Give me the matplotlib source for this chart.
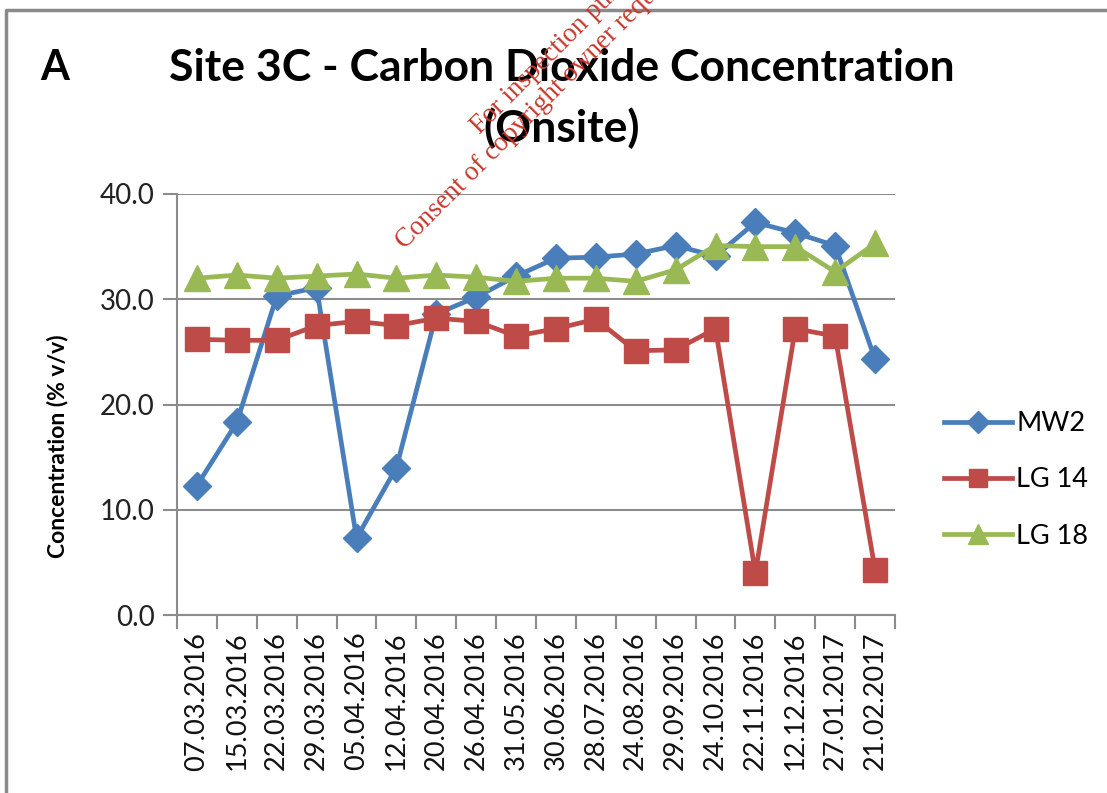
import numpy as np
import matplotlib
matplotlib.use("Agg")
import matplotlib.pyplot as plt
from matplotlib.lines import Line2D

# Data
dates = ["07.03.2016", "15.03.2016", "22.03.2016", "29.03.2016", "05.04.2016",
         "12.04.2016", "20.04.2016", "26.04.2016", "31.05.2016", "30.06.2016",
         "28.07.2016", "24.08.2016", "29.09.2016", "24.10.2016", "22.11.2016",
         "12.12.2016", "27.01.2017", "21.02.2017"]
mw2 = [12.3, 18.3, 30.3, 31.1, 7.3, 14.0, 28.6, 30.2, 32.2, 33.9,
       34.0, 34.3, 35.1, 34.1, 37.3, 36.3, 35.1, 24.3]
lg14 = [26.2, 26.1, 26.1, 27.5, 27.9, 27.5, 28.2, 27.9, 26.5, 27.2,
        28.1, 25.1, 25.2, 27.2, 4.0, 27.2, 26.5, 4.3]
lg18 = [32.0, 32.3, 32.0, 32.2, 32.4, 32.0, 32.3, 32.1, 31.7, 32.0,
        32.0, 31.7, 32.8, 35.1, 35.0, 35.0, 32.6, 35.3]

blue = "#4a7ebb"
red = "#be4b48"
green = "#98b954"
grid_c = "#8c8c8c"

plt.rcParams["font.family"] = ["Lato", "DejaVu Sans"]

fig = plt.figure(figsize=(11.07, 7.93), dpi=100)
ax = fig.add_axes([177 / 1107, 1 - 615 / 793, (895 - 177) / 1107, (615 - 194) / 793])

x = np.arange(len(dates))
ax.plot(x, mw2, color=blue, lw=3.4, marker="D", ms=14, label="MW2", zorder=3)
ax.plot(x, lg14, color=red, lw=3.4, marker="s", ms=17, label="LG 14", zorder=4)
ax.plot(x, lg18, color=green, lw=3.4, marker="^", ms=19, label="LG 18", zorder=5)

ax.set_xlim(-0.5, len(dates) - 0.5)
ax.set_ylim(0, 40)
ax.set_yticks([0, 10, 20, 30, 40])
ax.set_yticklabels(["0.0", "10.0", "20.0", "30.0", "40.0"], fontsize=20, color="#222222")
ax.set_xticks(x)
ax.set_xticklabels(dates, rotation=90, fontsize=19.5, color="#111111")
ax.set_xticks(np.arange(len(dates) + 1) - 0.5, minor=True)
ax.tick_params(axis="x", which="major", length=0, pad=12)
ax.tick_params(axis="x", which="minor", length=10, width=1.5, color=grid_c, direction="out")
ax.tick_params(axis="y", length=10, width=1.5, color=grid_c, pad=6)

ax.grid(axis="y", color=grid_c, lw=1.5)
ax.set_axisbelow(True)
for s in ["top", "right"]:
    ax.spines[s].set_visible(False)
for s in ["left", "bottom"]:
    ax.spines[s].set_color(grid_c)
    ax.spines[s].set_linewidth(1.5)

# y label sits a bit below the axis centre in the original
fig.text(57 / 1107, 1 - 446 / 793, "Concentration (% v/v)", fontsize=16.5,
         fontweight="bold", rotation=90, ha="center", va="center")

# Legend
handles = [Line2D([], [], color=blue, lw=3.4, marker="D", ms=11),
           Line2D([], [], color=red, lw=3.4, marker="s", ms=13),
           Line2D([], [], color=green, lw=3.4, marker="^", ms=14)]
fig.legend(handles, ["MW2", "LG 14", "LG 18"], loc="center left",
           bbox_to_anchor=(920 / 1107, 1 - 480 / 793), frameon=False,
           fontsize=19.5, handlelength=2.5, handletextpad=0.15, labelspacing=1.15)

# Titles
fig.text(40 / 1107, 1 - 68 / 793, "A", fontsize=30, fontweight="bold", va="center")
fig.text(562 / 1107, 1 - 68 / 793, "Site 3C - Carbon Dioxide Concentration",
         fontsize=32, fontweight="bold", ha="center", va="center")
fig.text(562 / 1107, 1 - 128 / 793, "(Onsite)",
         fontsize=32, fontweight="bold", ha="center", va="center")

# Watermark
wm = "#c8382c"
fig.text(480 / 1107, 1 - 135 / 793, "For inspection purposes only.",
         fontsize=19.5, color=wm, rotation=45, family="Liberation Serif",
         ha="left", va="baseline", rotation_mode="anchor")
fig.text(405 / 1107, 1 - 250 / 793, "Consent of copyright owner required for any other use.",
         fontsize=19.5, color=wm, rotation=45, family="Liberation Serif",
         ha="left", va="baseline", rotation_mode="anchor")

# Outer frame
fig.add_artist(Line2D([6 / 1107, 6 / 1107, 1.0], [0.0, 1 - 10 / 793, 1 - 10 / 793],
                      transform=fig.transFigure, color="#8a8a8a", lw=2.5))

fig.savefig("out.png", dpi=100)
